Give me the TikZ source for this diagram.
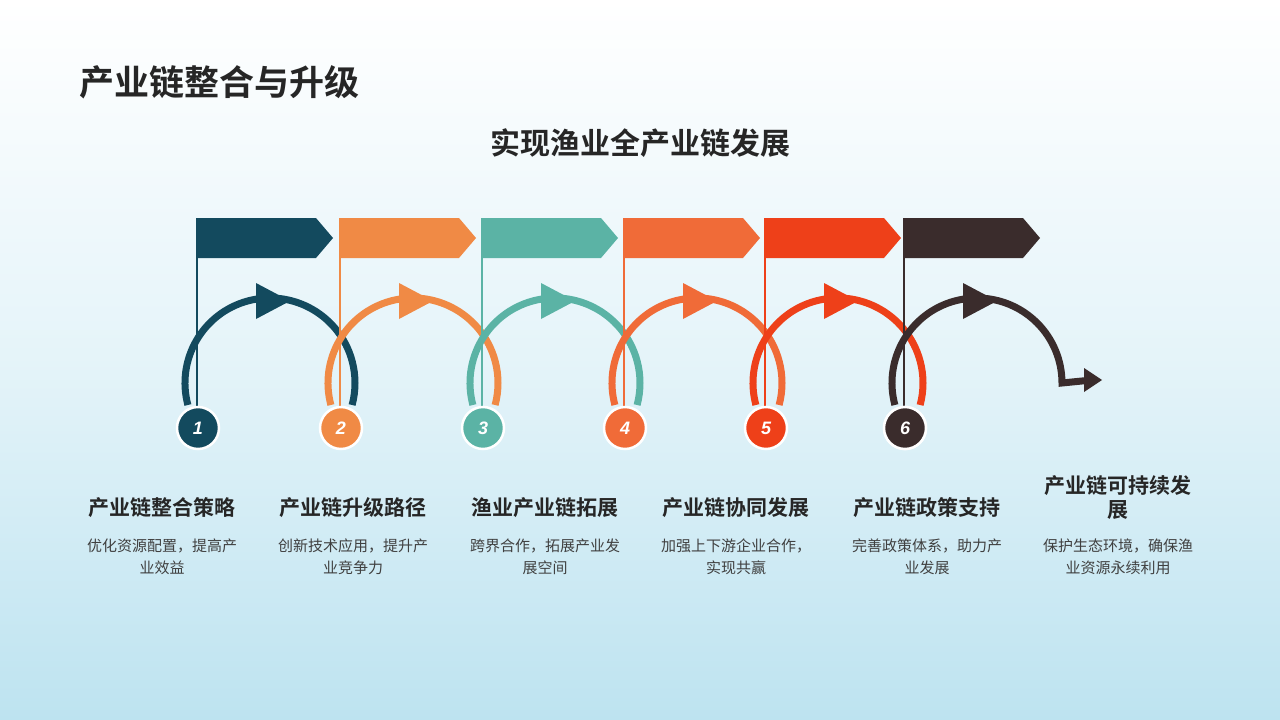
\documentclass[tikz,border=0pt]{standalone}
\usepackage{fontspec}
\setmainfont{Liberation Sans}
\newfontfamily\cjk{Noto Sans CJK SC}
\newfontfamily\cjkb{Noto Sans CJK SC Bold}
\usetikzlibrary{positioning}

\definecolor{cA}{HTML}{134A5E}
\definecolor{cB}{HTML}{F08A45}
\definecolor{cC}{HTML}{5BB3A5}
\definecolor{cD}{HTML}{F06B38}
\definecolor{cE}{HTML}{EE4019}
\definecolor{cF}{HTML}{3A2C2C}
\definecolor{bgtop}{HTML}{FFFFFF}
\definecolor{bgbot}{HTML}{BDE3F0}

\begin{document}
\begin{tikzpicture}[x=1pt,y=-1pt,
    heading/.style={font=\cjkb\fontsize{21}{24}\selectfont,text=black!85,align=center,inner sep=0pt},
    desc/.style={font=\cjk\fontsize{15}{22}\selectfont,text=black!75,align=center,inner sep=0pt},
    numdot/.style={circle,draw=white,line width=2.5pt,minimum size=42pt,inner sep=0pt,
                   text=white,font=\bfseries\itshape\fontsize{18}{18}\selectfont}]
  \shade[top color=bgtop,bottom color=bgbot,middle color=bgtop!60!bgbot]
    (0,0) rectangle (1280,720);
  \useasboundingbox (0,0) rectangle (1280,720);

  \node[font=\cjkb\fontsize{35}{35}\selectfont,text=black!85,anchor=west] (title) at (76,82) {产业链整合与升级};
  \node[font=\cjkb\fontsize{30}{30}\selectfont,text=black!85] (sub) at (640,143) {实现渔业全产业链发展};

  % flags, arcs and numbered dots
  \foreach \i/\x/\c in {1/198/cA,2/341/cB,3/483/cC,4/625/cD,5/766/cE,6/905/cF}{
    \fill[\c] (\x,218) -- ++(118,0) -- ++(17,20) -- ++(-17,20) -- ++(-118,0) -- cycle;
    \draw[\c,line width=2pt] (\x-1,218) -- (\x-1,410);
    \coordinate (m\i) at (\x+72,383);
    \ifnum\i<6
      \draw[\c,line width=7pt] (m\i) ++(165:85) arc[start angle=165,end angle=375,radius=85];
    \fi
    \fill[\c] (m\i) ++(-14,-100) -- ++(34,18) -- ++(-34,18) -- cycle;
    \node[numdot,fill=\c] (n\i) at (\x,428) {\i};
  }
  \coordinate (tip) at (1102,380);
  \draw[cF,line width=7pt] (m6) ++(165:85) arc[start angle=165,end angle=360,radius=85]
    -- ([xshift=-10pt]tip);
  \fill[cF] (tip) -- ++(-18,-12) -- ++(0,24) -- cycle;
  \node[numdot,fill=cF] at (n6) {6};

  % captions
  \node[heading] (h1) at (162,508) {产业链整合策略};
  \node[heading] (h2) at (353,508) {产业链升级路径};
  \node[heading] (h3) at (545,508) {渔业产业链拓展};
  \node[heading] (h4) at (736,508) {产业链协同发展};
  \node[heading] (h5) at (927,508) {产业链政策支持};
  \node[heading] (h6) at (1118,498) {产业链可持续发\\展};
  \node[desc] (d1) at (162,557) {优化资源配置，提高产\\业效益};
  \node[desc] (d2) at (353,557) {创新技术应用，提升产\\业竞争力};
  \node[desc] (d3) at (545,557) {跨界合作，拓展产业发\\展空间};
  \node[desc] (d4) at (736,557) {加强上下游企业合作，\\实现共赢};
  \node[desc] (d5) at (927,557) {完善政策体系，助力产\\业发展};
  \node[desc] (d6) at (1118,557) {保护生态环境，确保渔\\业资源永续利用};
\end{tikzpicture}
\end{document}
